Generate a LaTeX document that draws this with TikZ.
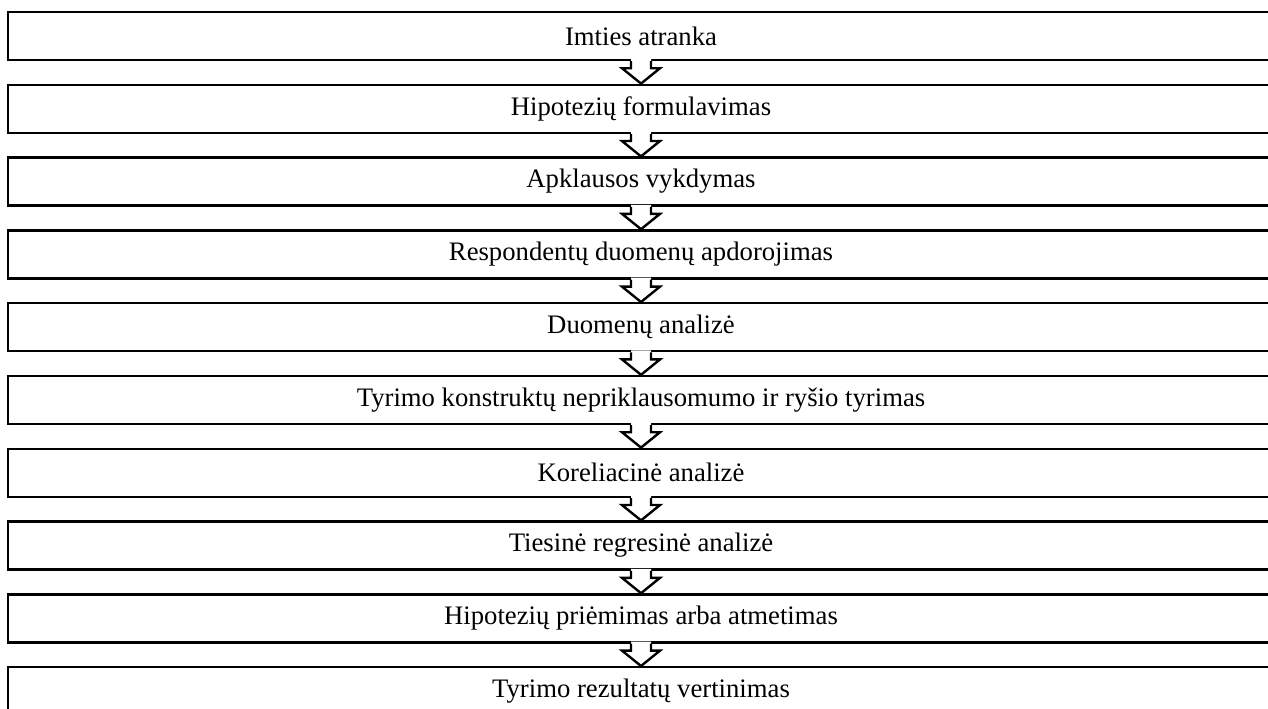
\documentclass[tikz,border=0pt]{standalone}
\usepackage{fontspec}
\setmainfont{Liberation Serif}
\usetikzlibrary{calc}

\begin{document}
\begin{tikzpicture}[x=0.5pt,y=-0.5pt]
\tikzset{stage/.style = {shape=rectangle,draw,line width=1.2pt,minimum width=633pt,minimum height=24pt,inner sep=0pt,font=\fontsize{13.35}{16}\selectfont}}
\tikzset{flow/.style = {draw,line width=1.2pt,line join=miter}}

\useasboundingbox (0,0) rectangle (1268,708);

\node[stage] (s1) at (641,36) {Imties atranka};
\node[stage] (s2) at (641,108.8) {Hipotezių formulavimas};
\node[stage] (s3) at (641,181.6) {Apklausos vykdymas};
\node[stage] (s4) at (641,254.4) {Respondentų duomenų apdorojimas};
\node[stage] (s5) at (641,327.2) {Duomenų analizė};
\node[stage] (s6) at (641,400) {Tyrimo konstruktų nepriklausomumo ir ryšio tyrimas};
\node[stage] (s7) at (641,472.8) {Koreliacinė analizė};
\node[stage] (s8) at (641,545.6) {Tiesinė regresinė analizė};
\node[stage] (s9) at (641,618.4) {Hipotezių priėmimas arba atmetimas};
\node[stage] (s10) at (641,691.2) {Tyrimo rezultatų vertinimas};

%block arrows
\foreach \a/\b in {s1/s2,s2/s3,s3/s4,s4/s5,s5/s6,s6/s7,s7/s8,s8/s9,s9/s10}{
  \fill[white] ($(\a.south)+(-10,-2)$) -- ($(\a.south)+(-10,7)$) -- ($(\a.south)+(-19,7)$) -- (\b.north)
    -- ($(\a.south)+(19,7)$) -- ($(\a.south)+(10,7)$) -- ($(\a.south)+(10,-2)$) -- cycle;
  \draw[flow] ($(\a.south)+(-10,0)$) -- ($(\a.south)+(-10,7)$) -- ($(\a.south)+(-19,7)$) -- (\b.north)
    -- ($(\a.south)+(19,7)$) -- ($(\a.south)+(10,7)$) -- ($(\a.south)+(10,0)$);
}

\end{tikzpicture}
\end{document}
